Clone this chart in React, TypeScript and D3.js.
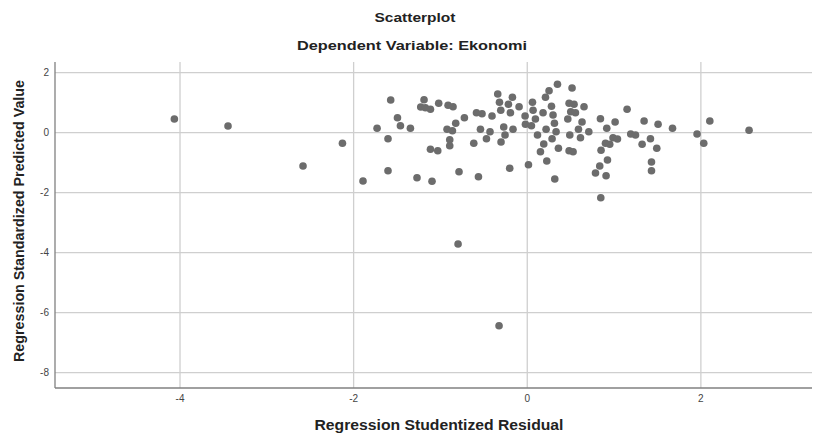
import React from "react";
import * as d3 from "d3";

const residuals: number[] = [
  -4.065, -3.447, -2.583, -2.129, -1.892, -1.73, -1.604, -1.604, -1.573, -1.495,
  -1.461, -1.346, -1.27, -1.189, -1.227, -1.173, -1.115, -1.115, -1.031, -1.097,
  -1.02, -0.912, -0.855, -0.824, -0.924, -0.862, -0.893, -0.893, -0.786, -0.724,
  -0.616, -0.585, -0.521, -0.562, -0.539, -0.47, -0.429, -0.406, -0.34, -0.32,
  -0.305, -0.302, -0.271, -0.256, -0.217, -0.194, -0.171, -0.164, -0.202, -0.094,
  -0.025, -0.021, 0.048, 0.014, 0.06, 0.067, 0.094, 0.118, 0.182, 0.21,
  0.251, 0.348, 0.279, 0.297, 0.313, 0.332, 0.217, 0.19, 0.286, 0.152,
  0.225, 0.359, 0.317, 0.516, 0.482, 0.539, 0.501, 0.555, 0.467, 0.49,
  0.482, 0.528, 0.654, 0.631, 0.59, 0.709, 0.613, 0.843, 1.012, 0.916,
  1.15, 1.346, 1.507, 1.673, 1.192, 1.247, 0.988, 1.039, 1.419, 0.901,
  0.95, 1.323, 1.492, 0.85, 0.924, 1.431, 0.835, 0.786, 0.908, 1.431,
  0.847, 1.956, 2.103, 2.033, 2.555, -0.797, -0.325,
];

const predicted: number[] = [
  0.457, 0.223, -1.11, -0.353, -1.61, 0.147, -0.2, -1.267, 1.09, 0.5,
  0.233, 0.147, -1.5, 1.1, 0.857, 0.833, 0.78, -0.553, -0.6, -1.62,
  0.98, 0.913, 0.867, 0.313, 0.113, 0.067, -0.233, -0.433, -1.3, 0.5,
  -0.353, 0.667, 0.633, -1.467, 0.113, -0.2, 0.033, 0.557, 1.29, 1.013,
  0.747, -0.31, 0.19, -0.077, 0.947, 0.667, 1.18, 0.113, -1.187, 0.867,
  0.557, 0.28, 0.233, -1.067, 1.013, 0.747, 0.457, -0.077, 0.667, 1.18,
  1.4, 1.613, 0.88, 0.59, 0.313, 0.033, 0.113, -0.377, -0.2, -0.633,
  -0.943, -0.52, -1.543, 1.49, 0.98, 0.947, 0.7, 0.667, 0.457, -0.077,
  -0.6, -0.633, 0.867, 0.357, 0.113, 0.033, -0.167, 0.467, 0.357, 0.147,
  0.78, 0.39, 0.28, 0.147, -0.043, -0.077, -0.167, -0.21, -0.2, -0.353,
  -0.387, -0.387, -0.52, -0.587, -0.91, -0.977, -1.11, -1.343, -1.433, -1.267,
  -2.167, -0.043, 0.39, -0.353, 0.08, -3.71, -6.433,
];

const xTicks: number[] = [-4, -2, 0, 2];
const yTicks: number[] = [2, 0, -2, -4, -6, -8];

const titleText = "Scatterplot";
const subtitleText = "Dependent Variable: Ekonomi";
const xTitle = "Regression Studentized Residual";
const yTitle = "Regression Standardized Predicted Value";

export default function App() {
  const W = 814;
  const H = 434;
  const left = 55;
  const right = 812;
  const top = 62;
  const bottom = 388;

  const x = d3.scaleLinear().domain([-5.44, 3.28]).range([left, right]);
  const y = d3.scaleLinear().domain([2.357, -8.51]).range([top, bottom]);

  const pts = residuals.map((r, i) => ({ r, p: predicted[i] }));
  const font = "'Liberation Sans', Arial, sans-serif";

  return (
    <svg
      width={W}
      height={H}
      style={{ position: "fixed", left: 0, top: 0, background: "#fff" }}
      fontFamily={font}
    >
      <rect x={0} y={0} width={W} height={H} fill="#fff" />
      <text x={415} y={22} textAnchor="middle" fontSize={13.5} fontWeight="bold" fill="#222"
        textLength={81} lengthAdjust="spacingAndGlyphs">
        {titleText}
      </text>
      <text x={412} y={50} textAnchor="middle" fontSize={13.5} fontWeight="bold" fill="#222"
        textLength={230} lengthAdjust="spacingAndGlyphs">
        {subtitleText}
      </text>

      {yTicks.map((t) => (
        <line key={"gy" + t} x1={left} x2={right} y1={y(t)} y2={y(t)} stroke="#cfcfcf" strokeWidth={1.3} />
      ))}
      {xTicks.map((t) => (
        <line key={"gx" + t} x1={x(t)} x2={x(t)} y1={top} y2={bottom} stroke="#cfcfcf" strokeWidth={1.3} />
      ))}

      <line x1={left} x2={left} y1={top} y2={bottom} stroke="#808080" strokeWidth={1.3} />
      <line x1={left} x2={right} y1={bottom} y2={bottom} stroke="#808080" strokeWidth={1.3} />

      {yTicks.map((t) => (
        <text key={"ty" + t} x={left - 6} y={y(t) + 3.5} textAnchor="end" fontSize={10} fill="#444">
          {t}
        </text>
      ))}
      {xTicks.map((t) => (
        <text key={"tx" + t} x={x(t)} y={bottom + 14} textAnchor="middle" fontSize={10} fill="#444">
          {t}
        </text>
      ))}

      {pts.map((d, i) => (
        <circle key={i} cx={x(d.r)} cy={y(d.p)} r={3.8} fill="#6c6c6c" />
      ))}

      <text x={439} y={430} textAnchor="middle" fontSize={14.5} fontWeight="bold" fill="#222"
        textLength={249} lengthAdjust="spacingAndGlyphs">
        {xTitle}
      </text>
      <text
        transform={`translate(24, 221) rotate(-90)`}
        textAnchor="middle"
        fontSize={14.5}
        fontWeight="bold"
        fill="#222"
        textLength={282}
        lengthAdjust="spacingAndGlyphs"
      >
        {yTitle}
      </text>
    </svg>
  );
}
